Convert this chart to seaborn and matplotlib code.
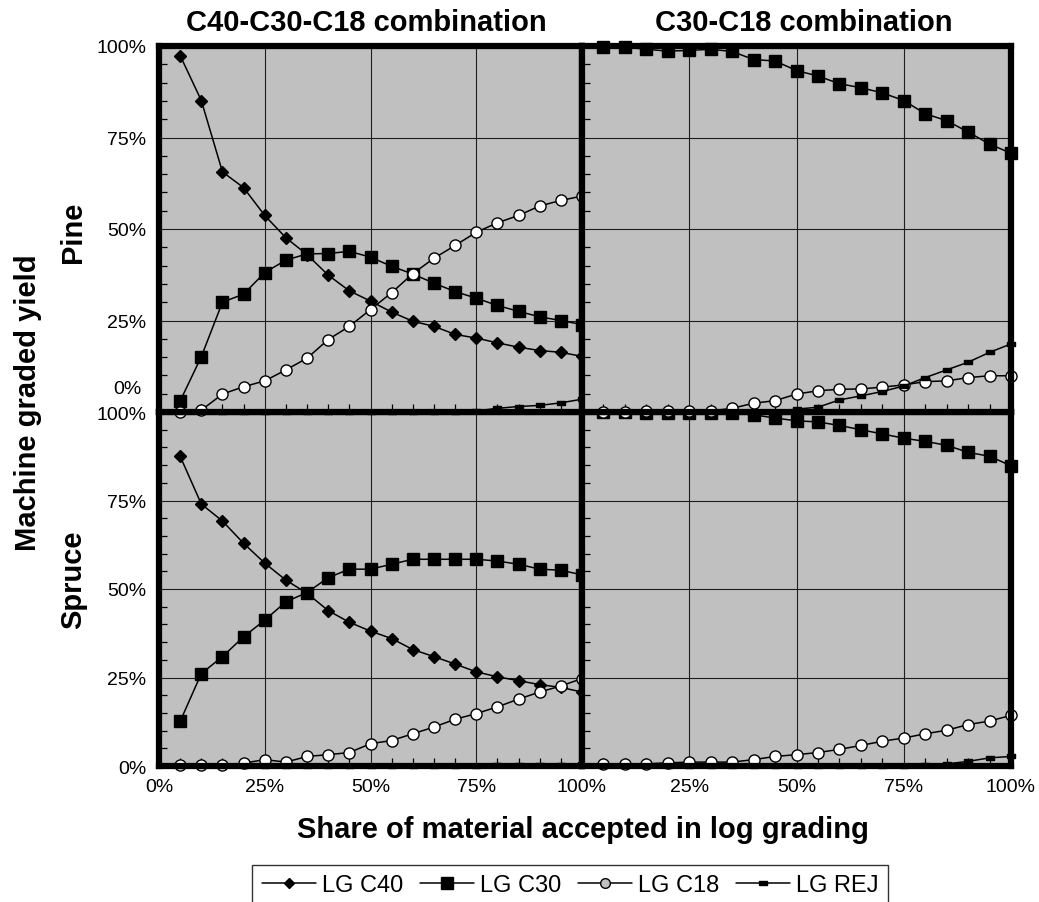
import matplotlib
matplotlib.use("Agg")
import matplotlib.pyplot as plt
import seaborn as sns
from matplotlib.ticker import MultipleLocator, FuncFormatter
from matplotlib.lines import Line2D

# ---------------- data (percent) ----------------
share = [5, 10, 15, 20, 25, 30, 35, 40, 45, 50, 55, 60, 65, 70, 75, 80, 85, 90, 95, 100]

# Pine, C40-C30-C18 combination
pine3_c40 = [97.4, 85.1, 65.6, 61.3, 53.7, 47.6, 43.0, 37.4, 33.1, 30.3,
             27.3, 24.8, 23.4, 21.2, 20.2, 18.9, 17.7, 16.8, 16.3, 15.2]
pine3_c30 = [3.0, 15.1, 30.0, 32.2, 38.1, 41.5, 43.2, 43.3, 43.9, 42.3,
             39.8, 37.7, 35.2, 32.9, 31.1, 29.1, 27.5, 26.0, 25.0, 23.9]
pine3_c18 = [0.0, 0.5, 4.9, 6.9, 8.5, 11.5, 14.7, 19.8, 23.4, 28.0,
             32.6, 37.8, 42.0, 45.5, 49.1, 51.7, 53.7, 56.3, 57.8, 59.0]
pine3_rej = [0.0, 0.0, 0.0, 0.0, 0.0, 0.0, 0.0, 0.0, 0.0, 0.0,
             0.0, 0.0, 0.0, 0.0, 0.3, 1.0, 1.5, 1.8, 2.5, 3.5]

# Pine, C30-C18 combination
pine2_c30 = [99.7, 99.7, 99.1, 98.6, 98.8, 99.1, 98.5, 96.3, 95.9, 93.3,
             91.8, 89.7, 88.6, 87.2, 85.1, 81.5, 79.6, 76.5, 73.2, 70.7]
pine2_c18 = [0.0, 0.0, 0.3, 0.3, 0.3, 0.3, 1.0, 2.4, 3.1, 4.9,
             5.8, 6.2, 6.3, 6.8, 7.4, 8.3, 8.5, 9.4, 9.9, 9.9]
pine2_rej = [0.0, 0.0, 0.0, 0.0, 0.0, 0.0, 0.0, 0.0, 0.0, 0.8,
             1.3, 3.3, 4.4, 5.6, 7.1, 9.4, 11.5, 13.6, 16.3, 18.6]

# Spruce, C40-C30-C18 combination
spruce3_c40 = [87.5, 74.0, 69.2, 62.9, 57.3, 52.5, 48.8, 43.9, 40.6, 38.1,
               36.0, 32.9, 30.9, 28.8, 26.6, 25.2, 24.1, 23.0, 22.2, 20.9]
spruce3_c30 = [12.6, 26.1, 30.9, 36.5, 41.2, 46.4, 49.0, 53.2, 55.6, 55.6,
               57.0, 58.4, 58.4, 58.4, 58.4, 57.9, 57.0, 55.6, 55.3, 54.0]
spruce3_c18 = [0.2, 0.2, 0.2, 0.8, 1.8, 1.1, 2.7, 3.2, 3.8, 6.3,
               7.2, 9.1, 11.0, 13.2, 14.8, 16.7, 18.9, 20.9, 22.6, 24.7]
spruce3_rej = [0.0, 0.0, 0.0, 0.0, 0.0, 0.0, 0.0, 0.0, 0.0, 0.0,
               0.0, 0.0, 0.0, 0.0, 0.0, 0.2, 0.3, 0.3, 0.4, 0.5]

# Spruce, C30-C18 combination
spruce2_c30 = [100.0, 100.0, 99.8, 99.7, 99.7, 99.7, 99.7, 99.2, 98.3, 97.5,
               97.2, 96.2, 95.0, 93.8, 92.6, 91.7, 90.6, 88.6, 87.5, 84.8]
spruce2_c18 = [0.5, 0.5, 0.6, 0.9, 1.1, 1.1, 1.1, 1.8, 2.7, 3.2,
               3.8, 4.7, 5.8, 7.0, 7.9, 9.1, 10.1, 11.7, 12.7, 14.3]
spruce2_rej = [0.0, 0.0, 0.0, 0.0, 0.0, 0.0, 0.0, 0.0, 0.0, 0.0,
               0.0, 0.0, 0.0, 0.0, 0.0, 0.4, 0.6, 1.3, 2.3, 2.7]

series_labels = ["LG C40", "LG C30", "LG C18", "LG REJ"]
col_titles = ["C40-C30-C18 combination", "C30-C18 combination"]
row_titles = ["Pine", "Spruce"]
y_title = "Machine graded yield"
x_title = "Share of material accepted in log grading"

# ---------------- style ----------------
sns.set_style("white")
plt.rcParams["font.family"] = ["Liberation Sans", "DejaVu Sans"]
for key in ["text.color", "axes.labelcolor", "xtick.color", "ytick.color"]:
    plt.rcParams[key] = "black"

BG = "#c0c0c0"
REJ_MARKER = [(-1, -0.55), (1, -0.55), (1, 0.55), (-1, 0.55), (-1, -0.55)]
STYLES = {
    "LG C40": dict(marker="D", markersize=6.0, markerfacecolor="black"),
    "LG C30": dict(marker="s", markersize=9.0, markerfacecolor="black"),
    "LG C18": dict(marker="o", markersize=8.0, markerfacecolor="white"),
    "LG REJ": dict(marker=REJ_MARKER, markersize=5.5, markerfacecolor="black"),
}

W, H = 1039, 903
fig = plt.figure(figsize=(W / 100, H / 100), dpi=100)


def add_axes(x0, x1, y0, y1):
    return fig.add_axes([x0 / W, 1 - y1 / H, (x1 - x0) / W, (y1 - y0) / H])


ax_tl = add_axes(159, 582, 47, 413)
ax_tr = add_axes(582, 1011, 47, 413)
ax_bl = add_axes(159, 582, 413, 767)
ax_br = add_axes(582, 1011, 413, 767)
ax_tl.set_zorder(3)
ax_tr.set_zorder(4)
ax_bl.set_zorder(1)
ax_br.set_zorder(2)

panels = [
    (ax_tl, {"LG C40": pine3_c40, "LG C30": pine3_c30, "LG C18": pine3_c18, "LG REJ": pine3_rej}),
    (ax_tr, {"LG C30": pine2_c30, "LG C18": pine2_c18, "LG REJ": pine2_rej}),
    (ax_bl, {"LG C40": spruce3_c40, "LG C30": spruce3_c30, "LG C18": spruce3_c18, "LG REJ": spruce3_rej}),
    (ax_br, {"LG C30": spruce2_c30, "LG C18": spruce2_c18, "LG REJ": spruce2_rej}),
]

pct = lambda v, p: f"{int(round(v))}%"
pct_no0 = lambda v, p: "" if round(v) == 0 else f"{int(round(v))}%"

for ax, data in panels:
    ax.set_facecolor(BG)
    for name, vals in data.items():
        st = STYLES[name]
        sns.lineplot(x=share, y=vals, ax=ax, color="black", linewidth=1.1,
                     markeredgecolor="black", markeredgewidth=1.0,
                     clip_on=False, legend=False, errorbar=None, **st)
    ax.set_xlim(0, 100)
    ax.set_ylim(0, 100)
    ax.set_xlabel("")
    ax.set_ylabel("")
    ax.xaxis.set_major_locator(MultipleLocator(25))
    ax.yaxis.set_major_locator(MultipleLocator(25))
    ax.xaxis.set_minor_locator(MultipleLocator(5))
    ax.yaxis.set_minor_locator(MultipleLocator(5))
    ax.grid(True, which="major", color="#1e1e1e", linewidth=0.8)
    ax.set_axisbelow(True)
    ax.tick_params(which="minor", direction="in", length=6, width=0.9, color="black",
                   left=True, bottom=True, top=False, right=False)
    ax.tick_params(which="major", direction="in", length=0, pad=9, labelsize=14,
                   labelcolor="black")
    ax.xaxis.set_major_formatter(FuncFormatter(pct))
    ax.yaxis.set_major_formatter(FuncFormatter(pct))
    for sp in ax.spines.values():
        sp.set_visible(True)
        sp.set_linewidth(4.5)
        sp.set_color("black")
        sp.set_capstyle("projecting")

ax_tl.tick_params(labelbottom=False)
ax_tr.tick_params(labelbottom=False, labelleft=False)
ax_br.tick_params(labelleft=False)
ax_tl.yaxis.set_major_formatter(FuncFormatter(pct_no0))
ax_br.xaxis.set_major_formatter(FuncFormatter(pct_no0))
# 0% label of the upper panel sits a little higher to clear the lower panel's 100%
ax_tl.annotate("0%", xy=(0, 0), xycoords=("axes fraction", "data"),
               xytext=(-12.5, 17), textcoords="offset points",
               ha="right", va="center", fontsize=14, annotation_clip=False)

# ---------------- texts ----------------
fig.text(366 / W, 1 - 23 / H, col_titles[0], ha="center", va="center",
         fontsize=21, fontweight="bold")
fig.text(804 / W, 1 - 23 / H, col_titles[1], ha="center", va="center",
         fontsize=21, fontweight="bold")
fig.text(28 / W, 1 - 403 / H, y_title, rotation=90, ha="center", va="center",
         fontsize=21, fontweight="bold")
fig.text(73 / W, 1 - 232 / H, row_titles[0], rotation=90, ha="center", va="center",
         fontsize=21, fontweight="bold")
fig.text(73 / W, 1 - 580 / H, row_titles[1], rotation=90, ha="center", va="center",
         fontsize=21, fontweight="bold")
fig.text(583 / W, 1 - 830 / H, x_title, ha="center", va="center",
         fontsize=21, fontweight="bold")

# ---------------- legend ----------------
leg_faces = {"LG C40": "black", "LG C30": "black", "LG C18": BG, "LG REJ": "black"}
leg_sizes = {"LG C40": 5.5, "LG C30": 8.0, "LG C18": 7.0, "LG REJ": 5.5}
handles = []
for name in series_labels:
    st = dict(STYLES[name])
    st["markersize"] = leg_sizes[name]
    st["markerfacecolor"] = leg_faces[name]
    handles.append(Line2D([], [], color="black", linewidth=1.1,
                          markeredgecolor="black", markeredgewidth=1.0, **st))
leg = fig.legend(handles, series_labels, loc="upper center",
                 bbox_to_anchor=(570 / W, 1 - 866 / H), ncol=4, frameon=True,
                 fancybox=False, shadow=False, fontsize=17, handlelength=2.3,
                 handletextpad=0.25, columnspacing=0.7, borderpad=0.4,
                 borderaxespad=0.0)
leg.get_frame().set_edgecolor("black")
leg.get_frame().set_linewidth(1.0)
leg.get_frame().set_facecolor("white")

fig.savefig("out.png", dpi=100, facecolor="white")
